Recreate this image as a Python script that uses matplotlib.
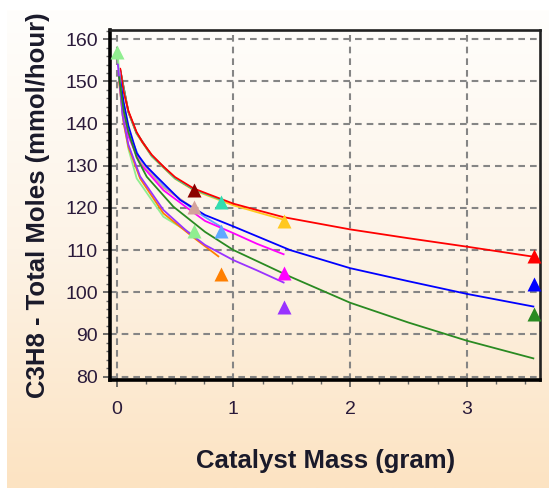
import numpy as np
import matplotlib
matplotlib.use("Agg")
import matplotlib.pyplot as plt
from matplotlib.colors import LinearSegmentedColormap
from matplotlib.ticker import MultipleLocator

plt.rcParams['font.family'] = ['Liberation Sans', 'DejaVu Sans']

# model curves (catalyst mass in gram, total moles in mmol/hour)
red_x = [0.03, 0.06, 0.1, 0.17, 0.22, 0.3, 0.4, 0.5, 0.66, 0.8, 1.0, 1.2, 1.43, 2.0, 2.5, 3.0, 3.575]
red_y = [153, 147.5, 143, 138, 135.6, 132.6, 129.8, 127.3, 124.6, 123.1, 121, 119.5, 117.8, 114.9, 112.8, 110.8, 108.4]
gold_x = [0.03, 0.1, 0.17, 0.3, 0.5, 0.66, 0.8, 1.0, 1.2, 1.43]
gold_y = [152.6, 142.6, 137.6, 132.2, 126.9, 124.2, 122.7, 120.6, 119.0, 117.2]
darkred_x = [0.03, 0.1, 0.17, 0.3, 0.5, 0.665]
darkred_y = [152.8, 142.8, 137.8, 132.4, 127.1, 124.3]
teal_x = [0.03, 0.1, 0.17, 0.3, 0.5, 0.66, 0.8, 0.895]
teal_y = [152.7, 142.7, 137.7, 132.3, 127.0, 124.4, 122.9, 121.9]

blue_x = [0.02, 0.06, 0.1, 0.171, 0.25, 0.343, 0.543, 0.757, 1.0, 1.485, 2.0, 2.5, 3.0, 3.57]
blue_y = [152, 145, 139.5, 133, 130, 127.4, 121.9, 118.3, 115.6, 110, 105.7, 102.6, 99.6, 96.6]
magenta_x = [0.02, 0.06, 0.1, 0.2, 0.4, 0.628, 0.757, 1.0, 1.2, 1.43]
magenta_y = [153, 143, 137, 130.5, 124.2, 119.5, 116.9, 114, 111.5, 109]
rosy_x = [0.02, 0.06, 0.1, 0.2, 0.4, 0.665]
rosy_y = [152.5, 143.5, 137.5, 131, 124.8, 119.8]
lightblue_x = [0.02, 0.06, 0.1, 0.2, 0.4, 0.628, 0.757, 0.895]
lightblue_y = [152.5, 144, 138, 131.5, 125.2, 120.2, 117.8, 115.5]

green_x = [0.02, 0.06, 0.1, 0.17, 0.257, 0.485, 0.757, 1.0, 1.485, 2.0, 2.5, 3.0, 3.57]
green_y = [151, 143, 138, 132, 127.4, 120.3, 114.3, 110, 103.7, 97.5, 92.8, 88.5, 84.3]
purple_x = [0.01, 0.05, 0.1, 0.2, 0.4, 0.6, 0.757, 1.0, 1.2, 1.43]
purple_y = [154, 142, 135, 127.5, 119.5, 114.5, 111.2, 107.6, 105.2, 102.3]
lightgreen_x = [0.01, 0.05, 0.1, 0.171, 0.4, 0.657]
lightgreen_y = [156, 142, 134, 127, 117.9, 113.6]
orange_x = [0.02, 0.06, 0.1, 0.2, 0.4, 0.657, 0.871]
orange_y = [150, 140, 134.5, 127, 118.7, 113, 108.5]

# experimental points
pts_x = [0.0, 0.665, 0.665, 0.665, 0.895, 0.895, 0.895, 1.435, 1.435, 1.435, 3.575, 3.575, 3.575]
pts_y = [157.0, 124.2, 120.3, 114.4, 121.3, 114.4, 104.2, 117.0, 104.6, 96.6, 108.5, 101.9, 94.8]
pts_c = ['#90ee90', '#8b0000', '#d4a29c', '#90ee90', '#33ddb0', '#5fa8ff', '#ff7f00',
         '#ffc820', '#ff00ff', '#9933ff', '#ff0000', '#0000ff', '#2a8a22']

fig = plt.figure(figsize=(5.49, 4.88), dpi=100)

# gradient panel behind everything
bg = fig.add_axes([7 / 549, 0, 1 - 7 / 549, 1 - 10 / 488], zorder=-10)
cmap = LinearSegmentedColormap.from_list('peach', ['#fffefc', '#fdf3e6', '#fce3c2'])
grad = np.linspace(0, 1, 256).reshape(-1, 1)
bg.imshow(grad, aspect='auto', cmap=cmap, extent=[0, 1, 1, 0])
bg.set_axis_off()

ax = fig.add_axes([110.3 / 549, 1 - 380 / 488, 429.7 / 549, 350 / 488])
ax.set_facecolor('none')

curves = [
    (gold_x, gold_y, '#ffc820'),
    (darkred_x, darkred_y, '#8b0000'),
    (teal_x, teal_y, '#33ddb0'),
    (red_x, red_y, '#ff0000'),
    (lightblue_x, lightblue_y, '#5fa8ff'),
    (rosy_x, rosy_y, '#d4a29c'),
    (magenta_x, magenta_y, '#ff00ff'),
    (blue_x, blue_y, '#0000ff'),
    (lightgreen_x, lightgreen_y, '#90ee90'),
    (orange_x, orange_y, '#ff7f00'),
    (purple_x, purple_y, '#9933ff'),
    (green_x, green_y, '#2a8a22'),
]
for xs, ys, c in curves:
    ax.plot(xs, ys, color=c, lw=1.3, zorder=3)

for x, y, c in zip(pts_x, pts_y, pts_c):
    ax.plot(x, y, '^', color=c, ms=9.5, mec='none', zorder=4, clip_on=False)

ax.set_xlim(-0.055, 3.627)
ax.set_ylim(79.17, 162.2)
ax.xaxis.set_major_locator(MultipleLocator(1))
ax.xaxis.set_minor_locator(MultipleLocator(0.25))
ax.yaxis.set_major_locator(MultipleLocator(10))
ax.yaxis.set_minor_locator(MultipleLocator(2))

ax.grid(True, which='major', color='#858585', lw=1.5, linestyle=(0, (3.2, 2.4)), zorder=1)

for side in ['left', 'bottom']:
    ax.spines[side].set_linewidth(2.6)
for side in ['top', 'right']:
    ax.spines[side].set_linewidth(1.9)
    ax.spines[side].set_color('#222222')

ax.tick_params(which='major', direction='out', length=5, width=1.2, color='#555555',
               labelsize=14, labelcolor='#2a1a3a')
ax.tick_params(which='minor', direction='out', length=3, width=1.0, color='#666666')
ax.tick_params(axis='x', which='major', pad=10)
ax.tick_params(axis='y', which='major', pad=4)

ax.set_xlabel('Catalyst Mass (gram)', fontsize=18.5, fontweight='bold', color='#1a1a2a')
ax.set_ylabel('C3H8 - Total Moles (mmol/hour)', fontsize=18.5, fontweight='bold', color='#1a1a2a')
ax.xaxis.set_label_coords(0.5, -0.197)
ax.yaxis.set_label_coords(-0.140, 0.5)

fig.savefig('out.png', dpi=100)
